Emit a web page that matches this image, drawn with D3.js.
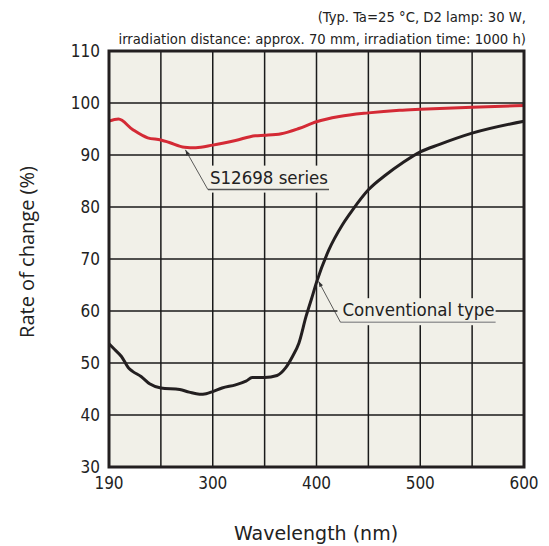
<!DOCTYPE html>
<html>
<head>
<meta charset="utf-8">
<script src="https://cdn.jsdelivr.net/npm/d3@7"></script>
<style>
  body { margin: 0; background: #fff; }
  text { fill: #222; }
</style>
</head>
<body>
<script>
// Datos (longitud de onda en nm, tasa de cambio en %)
var s12698Wl  = [190, 200, 215, 231, 245, 254, 270, 282, 300, 322, 341, 350, 366, 383, 400, 422, 450, 480, 500, 550, 600];
var s12698Val = [96.5, 96.9, 94.9, 93.3, 92.9, 92.4, 91.5, 91.4, 91.9, 92.8, 93.7, 93.8, 94.1, 95.1, 96.4, 97.4, 98.1, 98.6, 98.8, 99.2, 99.5];

var convWl  = [190, 196, 203, 211, 215, 224, 233, 245, 265, 275, 286, 293, 300, 309, 322, 332, 338, 350, 362, 370, 377, 383, 390, 395, 400, 412, 425, 435, 450, 467, 483, 500, 518, 550, 600];
var convVal = [53.7, 52.6, 51.3, 49.0, 48.4, 47.4, 46.0, 45.2, 44.9, 44.4, 44.0, 44.1, 44.5, 45.2, 45.8, 46.5, 47.2, 47.2, 47.6, 49.0, 51.3, 53.8, 59.0, 62.2, 65.5, 71.8, 76.6, 79.5, 83.3, 86.2, 88.5, 90.6, 92.0, 94.2, 96.5];

var xGrid   = [190, 245, 300, 350, 400, 450, 500, 550, 600];
var xTicks  = [190, 300, 400, 500, 600];
var yTicks  = [30, 40, 50, 60, 70, 80, 90, 100, 110];
var titleLines = ["(Typ. Ta=25 °C, D2 lamp: 30 W,", "irradiation distance: approx. 70 mm, irradiation time: 1000 h)"];

var W = 549, H = 546;
var plot = {left: 109, right: 524, top: 51, bottom: 467};
var pw = plot.right - plot.left;

// eje X no lineal: 190-300 ocupa dos divisiones, igual que 300-400
var x = d3.scaleLinear().domain([190, 300, 600]).range([plot.left, plot.left + pw * 2 / 8, plot.right]);
var y = d3.scaleLinear().domain([30, 110]).range([plot.bottom, plot.top]);

var svg = d3.select("body").append("svg").attr("width", W).attr("height", H);

var defs = svg.append("defs");
defs.append("marker").attr("id", "arr")
  .attr("viewBox", "0 0 10 10").attr("refX", 10).attr("refY", 5)
  .attr("markerWidth", 7).attr("markerHeight", 7).attr("orient", "auto")
  .append("path").attr("d", "M0,1.5 L10,5 L0,8.5 Z").attr("fill", "#333");

var bg = "#f1f0e8";
svg.append("rect").attr("x", plot.left).attr("y", plot.top)
  .attr("width", pw).attr("height", plot.bottom - plot.top).attr("fill", bg);

// grilla
svg.selectAll(".gx").data(xGrid).enter().append("line")
  .attr("x1", function(d){return x(d);}).attr("x2", function(d){return x(d);})
  .attr("y1", plot.top).attr("y2", plot.bottom)
  .attr("stroke", "#1a1a1a").attr("stroke-width", 1.5);
svg.selectAll(".gy").data(yTicks).enter().append("line")
  .attr("y1", function(d){return y(d);}).attr("y2", function(d){return y(d);})
  .attr("x1", plot.left).attr("x2", plot.right)
  .attr("stroke", "#1a1a1a").attr("stroke-width", 1.5);

// etiquetas de ejes
var font = "'DejaVu Sans Condensed', 'DejaVu Sans', sans-serif";
svg.selectAll(".tx").data(xTicks).enter().append("text")
  .attr("x", function(d){return x(d);}).attr("y", 489)
  .attr("text-anchor", "middle").attr("font-family", font).attr("font-size", 17)
  .text(function(d){return d;});
svg.selectAll(".ty").data(yTicks).enter().append("text")
  .attr("x", 100).attr("y", function(d){return y(d);}).attr("dy", "0.36em")
  .attr("text-anchor", "end").attr("font-family", font).attr("font-size", 17)
  .text(function(d){return d;});

svg.append("text").attr("x", 316).attr("y", 540)
  .attr("text-anchor", "middle").attr("font-family", "'DejaVu Sans', sans-serif").attr("font-size", 19)
  .text("Wavelength (nm)");
svg.append("text").attr("transform", "translate(34,252) rotate(-90)")
  .attr("text-anchor", "middle").attr("font-family", "'Open Sans', sans-serif").attr("font-size", 20)
  .text("Rate of change (%)");

svg.selectAll(".title").data(titleLines).enter().append("text")
  .attr("x", plot.right + 2).attr("y", function(d,i){return 22 + i*22;})
  .attr("text-anchor", "end").attr("font-family", font).attr("font-size", 14.7)
  .text(function(d){return d;});

// anotaciones
var notes = [
  {text: "S12698 series", tip: [271, 91.0], at: [297, 84.5], ul: "#555"},
  {text: "Conventional type", tip: [402, 65.7], at: [425, 59.0], ul: "#999"}
];
notes.forEach(function(n){
  var g = svg.append("g");
  var box = g.append("rect").attr("fill", bg);
  var t = g.append("text").attr("x", x(n.at[0])).attr("y", y(n.at[1]))
    .attr("font-family", font).attr("font-size", 18.5).text(n.text);
  var b = t.node().getBBox();
  box.attr("x", b.x - 5).attr("y", b.y - 1).attr("width", b.width + 6).attr("height", b.height + 6);
  var uy = y(n.at[1]) + 6;
  g.append("line").attr("x1", b.x - 2).attr("x2", b.x + b.width + 1)
    .attr("y1", uy).attr("y2", uy).attr("stroke", n.ul).attr("stroke-width", 1.5);
  g.append("line").attr("x1", b.x - 2).attr("y1", uy)
    .attr("x2", x(n.tip[0])).attr("y2", y(n.tip[1]))
    .attr("stroke", "#333").attr("stroke-width", 0.8).attr("marker-end", "url(#arr)");
});

// curvas
var line = d3.line().curve(d3.curveMonotoneX)
  .x(function(d){return x(d[0]);}).y(function(d){return y(d[1]);});
svg.append("path").datum(d3.zip(convWl, convVal)).attr("d", line)
  .attr("fill", "none").attr("stroke", "#231f20").attr("stroke-width", 3);
svg.append("path").datum(d3.zip(s12698Wl, s12698Val)).attr("d", line)
  .attr("fill", "none").attr("stroke", "#d42a35").attr("stroke-width", 3);

// borde
svg.append("rect").attr("x", plot.left).attr("y", plot.top)
  .attr("width", pw).attr("height", plot.bottom - plot.top)
  .attr("fill", "none").attr("stroke", "#231f20").attr("stroke-width", 3);
</script>
</body>
</html>
